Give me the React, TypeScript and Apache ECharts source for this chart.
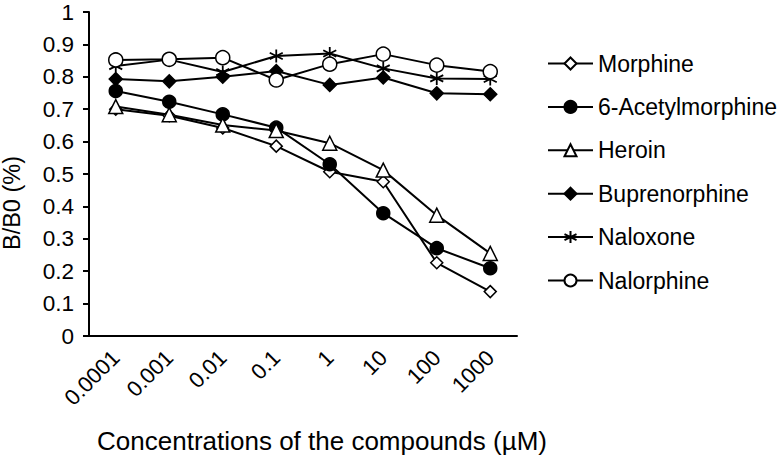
import React, { useEffect, useRef } from "react";
import * as echarts from "echarts";

const categories = ["0.0001", "0.001", "0.01", "0.1", "1", "10", "100", "1000"];
const morphine = [0.7, 0.68, 0.642, 0.586, 0.507, 0.476, 0.226, 0.137];
const acetylmorphine = [0.756, 0.723, 0.684, 0.643, 0.53, 0.379, 0.271, 0.209];
const heroin = [0.708, 0.683, 0.651, 0.634, 0.595, 0.512, 0.373, 0.255];
const buprenorphine = [0.793, 0.786, 0.8, 0.818, 0.775, 0.798, 0.749, 0.746];
const naloxone = [0.833, 0.853, 0.815, 0.864, 0.872, 0.826, 0.795, 0.793];
const nalorphine = [0.852, 0.854, 0.859, 0.79, 0.839, 0.87, 0.836, 0.816];

const FONT = "'Liberation Sans', Arial, sans-serif";
const STAR = "path://M0,-10 L0,10 M-8.7,-5 L8.7,5 M-8.7,5 L8.7,-5";

export default function App() {
  const ref = useRef<HTMLDivElement>(null);
  useEffect(() => {
    if (!ref.current) return;
    const chart = echarts.init(ref.current, null, { renderer: "svg" });
    const mk = (name: string, data: number[], symbol: string, size: number, fill: string, bw = 1.5) => ({
      name,
      type: "line",
      data,
      symbol,
      symbolSize: size,
      showSymbol: true,
      lineStyle: { color: "#000", width: 2 },
      itemStyle: { color: fill, borderColor: "#000", borderWidth: bw },
      emphasis: { disabled: true },
    });
    chart.setOption({
      animation: false,
      backgroundColor: "#fff",
      textStyle: { fontFamily: FONT },
      grid: { left: 89, right: 261, top: 12, bottom: 122, containLabel: false },
      legend: {
        orient: "vertical",
        left: 547,
        top: 52,
        padding: 0,
        itemWidth: 45,
        itemHeight: 15,
        itemGap: 20.4,
        textStyle: { fontSize: 23, color: "#000", fontFamily: FONT, lineHeight: 23 },
        data: ["Morphine", "6-Acetylmorphine", "Heroin", "Buprenorphine", "Naloxone", "Nalorphine"],
      },
      xAxis: {
        type: "category",
        data: categories,
        boundaryGap: true,
        axisLine: { lineStyle: { color: "#000", width: 2 } },
        axisTick: { length: 6, lineStyle: { color: "#000", width: 2 } },
        axisLabel: { rotate: 45, margin: 18, fontSize: 22, color: "#000", fontFamily: FONT, interval: 0 },
        splitLine: { show: false },
      },
      yAxis: {
        type: "value",
        min: 0,
        max: 1,
        interval: 0.1,
        axisLine: { show: true, lineStyle: { color: "#000", width: 2 } },
        axisTick: { show: true, length: 6, lineStyle: { color: "#000", width: 2 } },
        axisLabel: { margin: 15, fontSize: 22.5, color: "#000", fontFamily: FONT },
        splitLine: { show: false },
      },
      graphic: [
        {
          type: "text",
          x: 12,
          y: 203,
          rotation: Math.PI / 2,
          style: {
            text: "B/B0 (%)",
            fontSize: 23.5,
            fontFamily: FONT,
            fill: "#000",
            align: "center",
            verticalAlign: "middle",
          },
        },
        {
          type: "text",
          x: 322,
          y: 441,
          scaleX: 1.04,
          style: {
            text: "Concentrations of the compounds (µM)",
            fontSize: 25,
            fontFamily: FONT,
            fill: "#000",
            align: "center",
            verticalAlign: "middle",
          },
        },
      ],
      series: [
        mk("Morphine", morphine, "diamond", 12, "#fff"),
        mk("6-Acetylmorphine", acetylmorphine, "circle", 13, "#000"),
        mk("Heroin", heroin, "triangle", 14, "#fff"),
        mk("Buprenorphine", buprenorphine, "diamond", 13, "#000"),
        mk("Naloxone", naloxone, STAR, 13, "none", 1.8),
        mk("Nalorphine", nalorphine, "circle", 14, "#fff"),
      ],
    });
    return () => chart.dispose();
  }, []);
  return (
    <div
      ref={ref}
      style={{ position: "absolute", left: 0, top: 0, width: 778, height: 458, background: "#fff" }}
    />
  );
}
